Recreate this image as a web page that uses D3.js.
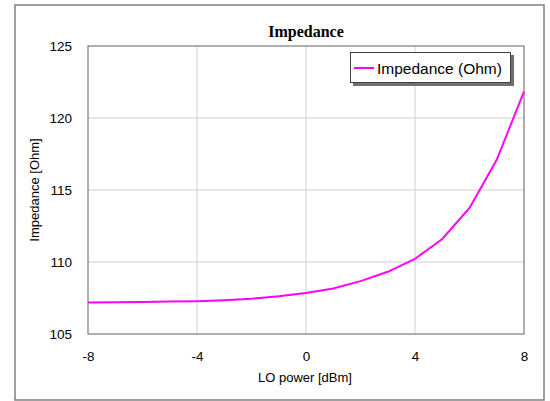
<!DOCTYPE html>
<html><head><meta charset="utf-8">
<script src="https://cdn.jsdelivr.net/npm/d3@7"></script>
<style>body{margin:0;background:#fff}svg{display:block}</style>
</head><body>
<svg id="c" width="550" height="401"></svg>
<script>
const loPower = [-8,-7,-6,-5,-4,-3,-2,-1,0,1,2,3,4,5,6,7,8];
const impedance = [107.19,107.2,107.22,107.25,107.28,107.35,107.45,107.62,107.85,108.16,108.67,109.32,110.22,111.6,113.75,117.1,121.83];
const xTicks = [-8,-4,0,4,8];
const yTicks = [105,110,115,120,125];
const seriesName = "Impedance (Ohm)";

const svg = d3.select("#c");
const m = {l:88, r:524, t:46, b:334};
const x = d3.scaleLinear().domain([-8,8]).range([m.l,m.r]);
const y = d3.scaleLinear().domain([105,125]).range([m.b,m.t]);
const fmt = d => String(d);

svg.append("rect").attr("x",15).attr("y",5).attr("width",529).attr("height",395)
  .attr("fill","#fff").attr("stroke","#808080").attr("stroke-width",1.5);

// grid
svg.append("g").selectAll("line").data(xTicks.slice(1,-1)).join("line")
  .attr("x1",d=>x(d)).attr("x2",d=>x(d)).attr("y1",m.t).attr("y2",m.b)
  .attr("stroke","#d0d0d0").attr("stroke-width",1);
svg.append("g").selectAll("line").data(yTicks.slice(1,-1)).join("line")
  .attr("y1",d=>y(d)).attr("y2",d=>y(d)).attr("x1",m.l).attr("x2",m.r)
  .attr("stroke","#d0d0d0").attr("stroke-width",1);

// frame
svg.append("rect").attr("x",m.l).attr("y",m.t).attr("width",m.r-m.l).attr("height",m.b-m.t)
  .attr("fill","none").attr("stroke","#606060").attr("stroke-width",1);

// axes (labels only)
const xa = svg.append("g").attr("transform",`translate(0,${m.b})`)
  .call(d3.axisBottom(x).tickValues(xTicks).tickSize(0).tickPadding(17).tickFormat(fmt));
const ya = svg.append("g").attr("transform",`translate(${m.l},0)`)
  .call(d3.axisLeft(y).tickValues(yTicks).tickSize(0).tickPadding(16).tickFormat(fmt));
[xa,ya].forEach(a=>{a.select(".domain").remove();
  a.selectAll("text").attr("font-family","Arial, 'Liberation Sans', sans-serif").attr("font-size",13.5).attr("fill","#000");});

// line
svg.append("path").datum(loPower.map((d,i)=>[d,impedance[i]]))
  .attr("fill","none").attr("stroke","#ff00ff").attr("stroke-width",2)
  .attr("d",d3.line().x(d=>x(d[0])).y(d=>y(d[1])));

// title
svg.append("text").attr("x",306).attr("y",37).attr("text-anchor","middle")
  .attr("font-family","'Times New Roman','Liberation Serif',serif").attr("font-weight","bold").attr("font-size",16)
  .text("Impedance");

// axis titles
svg.append("text").attr("x",305).attr("y",382).attr("text-anchor","middle")
  .attr("font-family","Arial, 'Liberation Sans', sans-serif").attr("font-size",13).text("LO power [dBm]");
svg.append("text").attr("transform","translate(39,190) rotate(-90)").attr("text-anchor","middle")
  .attr("font-family","Arial, 'Liberation Sans', sans-serif").attr("font-size",13).text("Impedance [Ohm]");

// legend
const lg = svg.append("g");
lg.append("rect").attr("x",353).attr("y",55).attr("width",161).attr("height",31).attr("fill","#707070");
lg.append("rect").attr("x",350.5).attr("y",52.5).attr("width",160).attr("height",30)
  .attr("fill","#fff").attr("stroke","#404040").attr("stroke-width",1);
lg.append("line").attr("x1",354).attr("x2",374).attr("y1",68).attr("y2",68)
  .attr("stroke","#ff00ff").attr("stroke-width",2);
lg.append("text").attr("x",377).attr("y",73.5).attr("font-family","Arial, 'Liberation Sans', sans-serif")
  .attr("font-size",15.5).text(seriesName);
</script>
</body></html>
